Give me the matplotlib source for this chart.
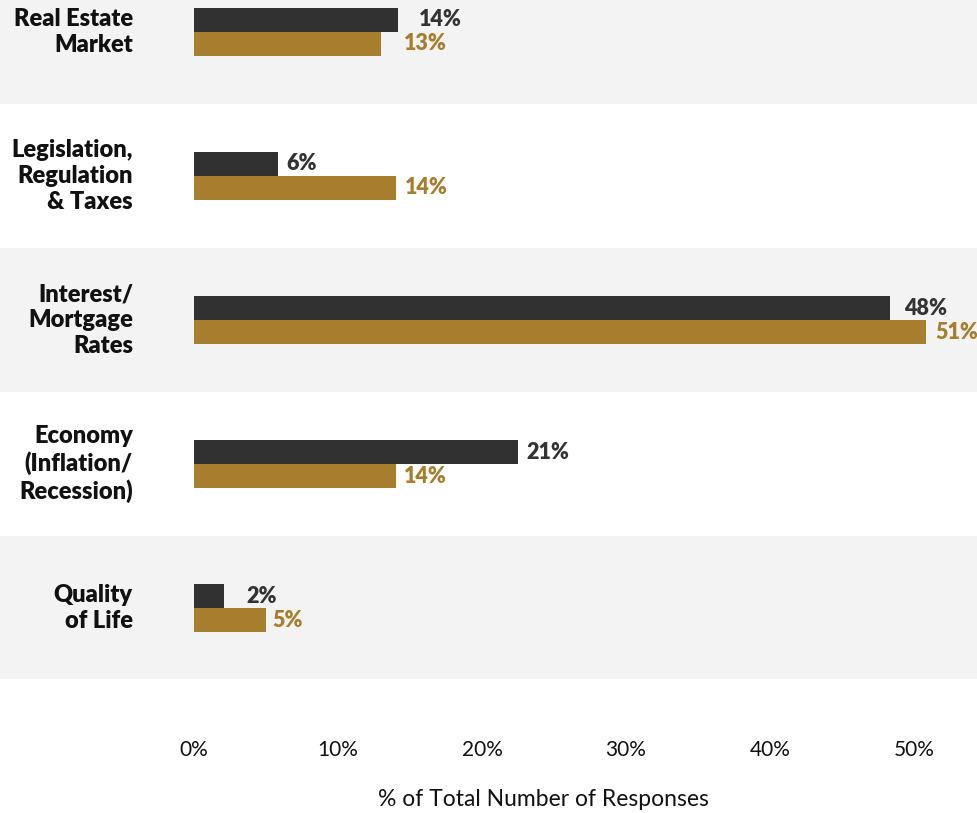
import matplotlib
matplotlib.use("Agg")
import matplotlib.pyplot as plt
import numpy as np

plt.rcParams['font.family'] = ['Lato', 'DejaVu Sans']

categories = ["Real Estate\nMarket", "Legislation,\nRegulation\n& Taxes",
              "Interest/\nMortgage\nRates", "Economy\n(Inflation/\nRecession)",
              "Quality\nof Life"]
series_dark = [14.17, 5.83, 48.33, 22.5, 2.08]
series_gold = [13.0, 14.0, 50.83, 14.0, 5.0]
labels_dark = ["14%", "6%", "48%", "21%", "2%"]
labels_gold = ["13%", "14%", "51%", "14%", "5%"]
xticks = [0, 10, 20, 30, 40, 50]
xtick_labels = ["0%", "10%", "20%", "30%", "40%", "50%"]
xlabel = "% of Total Number of Responses"

# label offsets (pixels) from bar end
pad_dark = [21, 8, 14, 8, 22]
pad_gold = [23, 9, 9, 8, 6]

DARK = "#313131"
GOLD = "#a67e2e"
BAND = "#f2f3f2"

W, H = 977, 813
fig = plt.figure(figsize=(W / 100, H / 100), dpi=100)
fig.patch.set_facecolor("white")
ax = fig.add_axes([0, (H - 679) / H, 1, 679 / H])
ax.set_facecolor("white")

px_per = 14.4
x0 = 194
ax.set_xlim((0 - x0) / px_per, (W - x0) / px_per)
ax.set_ylim((679 - 32) / 144, -32 / 144)

n = len(categories)
y = np.arange(n)
for i in range(n):
    if i % 2 == 0:
        ax.axhspan(i - 0.5, i + 0.5, color=BAND, zorder=0, lw=0)

h = 24 / 144
ax.barh(y - h / 2, series_dark, height=h, color=DARK, zorder=2)
ax.barh(y + h / 2, series_gold, height=h, color=GOLD, zorder=2)

for i in range(n):
    ax.annotate(labels_dark[i], (series_dark[i], y[i] - h / 2),
                xytext=(pad_dark[i] * 0.72, 0), textcoords="offset points",
                ha="left", va="center", color="#333333", fontsize=15.5,
                fontweight="heavy")
    ax.annotate(labels_gold[i], (series_gold[i], y[i] + h / 2),
                xytext=(pad_gold[i] * 0.72, 0), textcoords="offset points",
                ha="left", va="center", color=GOLD, fontsize=15.5,
                fontweight="heavy")
    ax.text(133 / W, y[i], categories[i], transform=ax.get_yaxis_transform(),
            ha="right", va="center", fontsize=17, fontweight="heavy",
            color="#111111", linespacing=1.2)

ax.set_yticks([])
ax.set_xticks(xticks)
ax.set_xticklabels(xtick_labels, fontsize=15, color="#111111")
ax.tick_params(axis="x", length=0, pad=44)
for s in ax.spines.values():
    s.set_visible(False)

fig.text(543 / W, 1 - 799 / H, xlabel, ha="center", va="center",
         fontsize=16.5, color="#111111")

fig.savefig("out.png", dpi=100)
